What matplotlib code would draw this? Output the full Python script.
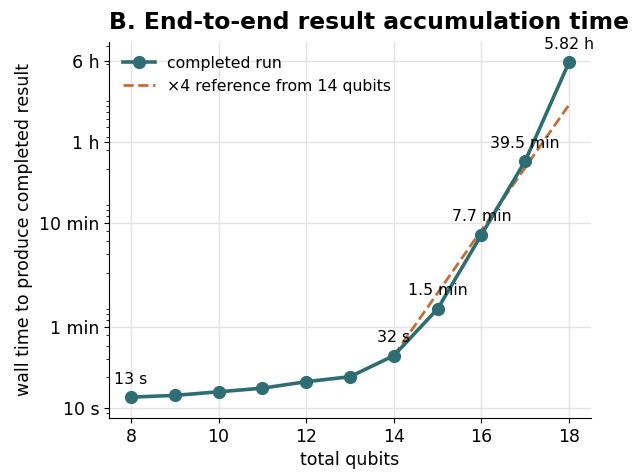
import numpy as np
import matplotlib
matplotlib.use("Agg")
import matplotlib.pyplot as plt
from matplotlib.ticker import FixedLocator, FixedFormatter, LogLocator

# wall time (seconds) per qubit count
qubits = [8, 9, 10, 11, 12, 13, 14, 15, 16, 17, 18]
seconds = [12.8, 13.3, 14.4, 15.6, 18.0, 20.1, 32, 90, 462, 2370, 20952]
labels = {8: "13 s", 14: "32 s", 15: "1.5 min", 16: "7.7 min",
          17: "39.5 min", 18: "5.82 h"}

ref_qubits = [14, 15, 16, 17, 18]
ref_factor = 4

tick_vals = [10, 60, 600, 3600, 21600]
tick_text = ["10 s", "1 min", "10 min", "1 h", "6 h"]

teal = "#2e6e72"
orange = "#c07038"

fig = plt.figure(figsize=(6.34, 4.75), dpi=100)
ax = fig.add_axes([0.172, 0.12, 0.76, 0.792])

ax.plot(qubits, seconds, "-o", color=teal, lw=2.6, ms=8.5, label="completed run", zorder=3)

base = seconds[qubits.index(ref_qubits[0])]
ref = [base * ref_factor ** (q - ref_qubits[0]) for q in ref_qubits]
ax.plot(ref_qubits, ref, "--", color=orange, lw=2, label="×4 reference from 14 qubits", zorder=2)

for q, s in zip(qubits, seconds):
    if q in labels:
        ax.annotate(labels[q], (q, s), textcoords="offset points", xytext=(0, 7.5),
                    ha="center", va="bottom", fontsize=11.3)

ax.set_yscale("log")
ax.set_ylim(8.07, 33000)
ax.set_xlim(7.5, 18.5)
ax.yaxis.set_major_locator(FixedLocator(tick_vals))
ax.yaxis.set_major_formatter(FixedFormatter(tick_text))
ax.yaxis.set_minor_locator(LogLocator(base=10, subs=np.arange(2, 10)))
ax.yaxis.set_minor_formatter(plt.NullFormatter())
ax.set_xticks([8, 10, 12, 14, 16, 18])
ax.tick_params(axis="both", which="major", labelsize=12.5)

ax.grid(True, which="major", color="#e3e3e3", lw=1)
ax.set_axisbelow(True)
ax.spines["top"].set_visible(False)
ax.spines["right"].set_visible(False)

ax.set_xlabel("total qubits", fontsize=12.5)
ax.set_ylabel("wall time to produce completed result", fontsize=12.5)
ax.set_title("B. End-to-end result accumulation time", loc="left",
             fontsize=16.9, fontweight="bold", pad=9)
ax.legend(loc="upper left", frameon=False, fontsize=11.3)

fig.savefig("out.png", dpi=100)
